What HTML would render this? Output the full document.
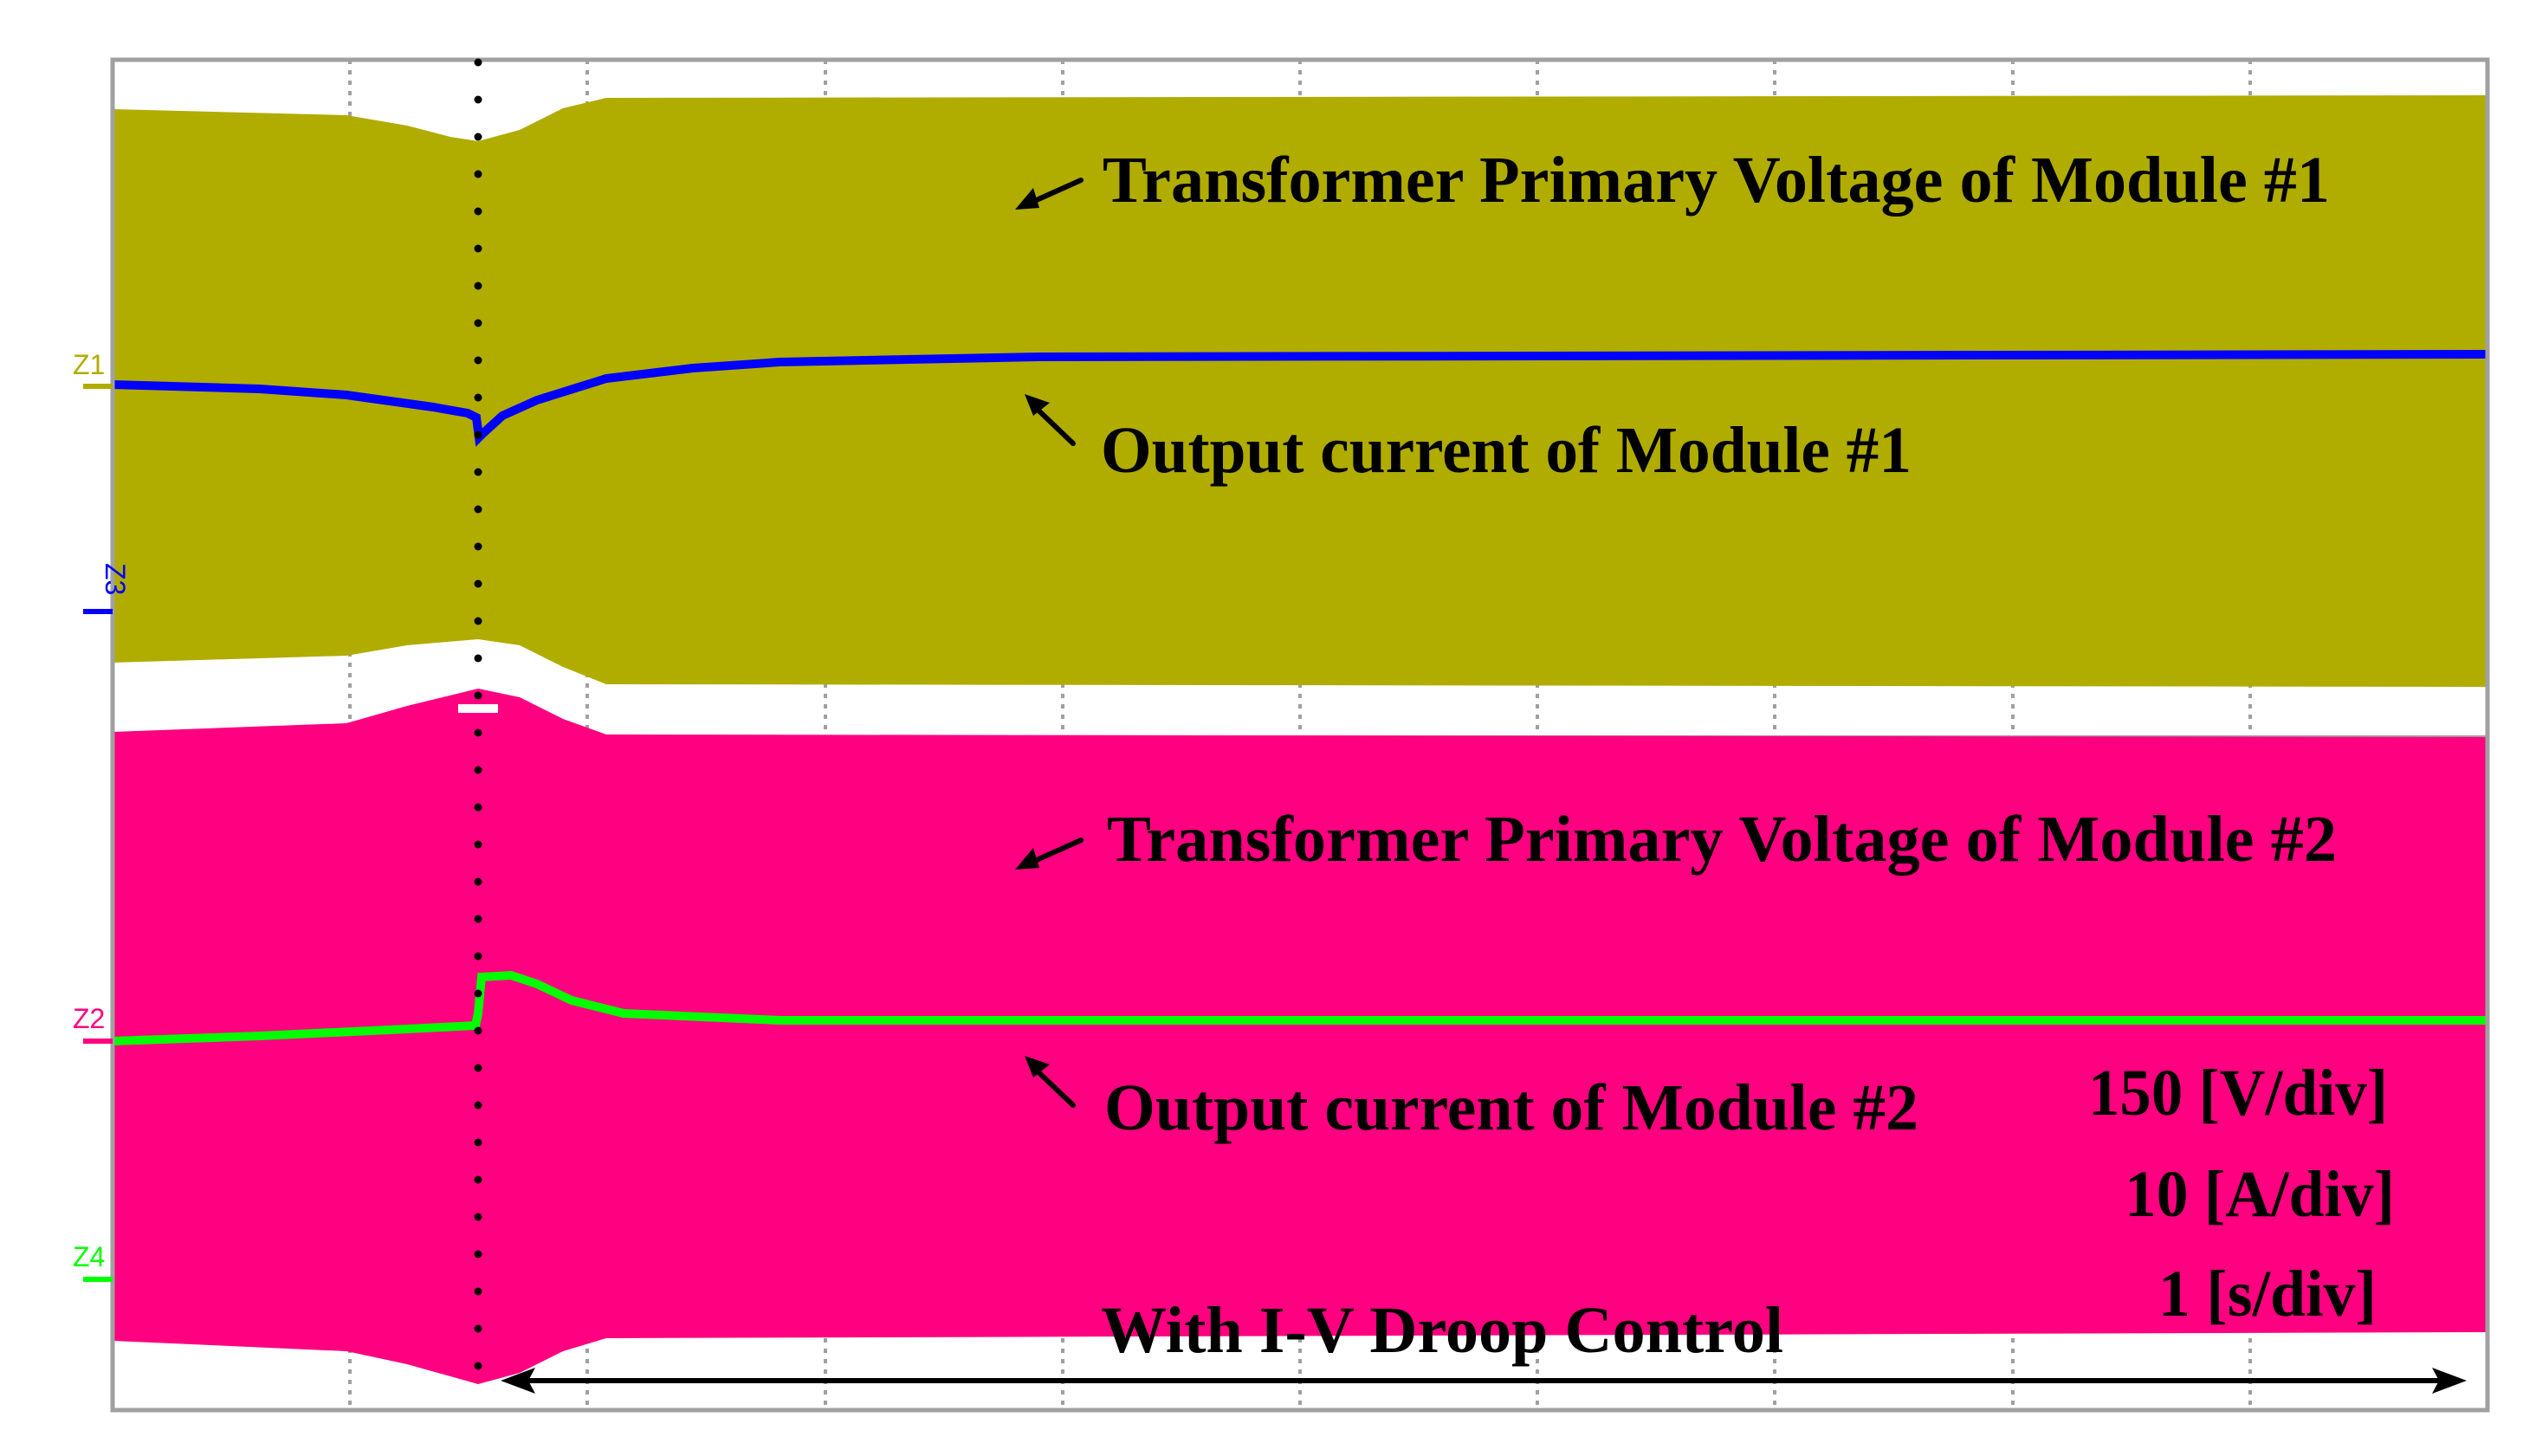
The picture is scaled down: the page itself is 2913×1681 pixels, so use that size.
<!DOCTYPE html>
<html><head><meta charset="utf-8"><style>html,body{margin:0;padding:0;background:#fff}svg{display:block}</style></head>
<body>
<svg id="s" width="2913" height="1681" viewBox="0 0 2913 1681" xmlns="http://www.w3.org/2000/svg">
<rect width="2913" height="1681" fill="#fff"/>
<g stroke="#a0a0a0" stroke-width="4" stroke-dasharray="5,7">
<line x1="404" y1="69" x2="404" y2="1628"/><line x1="678" y1="69" x2="678" y2="1628"/><line x1="953" y1="69" x2="953" y2="1628"/><line x1="1227" y1="69" x2="1227" y2="1628"/><line x1="1501" y1="69" x2="1501" y2="1628"/><line x1="1775" y1="69" x2="1775" y2="1628"/><line x1="2049" y1="69" x2="2049" y2="1628"/><line x1="2324" y1="69" x2="2324" y2="1628"/><line x1="2598" y1="69" x2="2598" y2="1628"/>
</g>
<line x1="130" y1="851" x2="2872" y2="851" stroke="#a0a0a0" stroke-width="4"/>
<polygon fill="#b0ac00" points="130,126 400,133 470,145 520,158 552,163 600,150 650,125 700,113 2872,110 2872,793 700,790 650,770 600,745 552,738 470,745 400,757 130,765"/>
<polygon fill="#ff0080" points="130,845 400,835 470,815 552,795 600,805 650,830 700,848 2872,851 2872,1538 700,1545 650,1560 600,1585 552,1598 470,1575 400,1560 130,1548"/>
<rect x="529" y="813" width="46" height="10" fill="#fff"/>
<polyline fill="none" stroke="#0000ff" stroke-width="10" points="130,444 300,449 400,456 500,470 540,477 550,482 553,505 558,500 580,480 620,462 700,437 800,425 900,418 1200,412 2872,409"/>
<polyline fill="none" stroke="#00ff00" stroke-width="10" points="130,1202 300,1196 450,1189 549,1184 552,1170 556,1128 590,1126 620,1136 660,1155 720,1170 900,1178 2872,1178"/>
<rect x="130" y="69" width="2742" height="1559" fill="none" stroke="#a0a0a0" stroke-width="5"/>
<g id="dots" fill="#000"></g>
<g font-family="Liberation Sans, sans-serif" font-size="32">
<text x="84" y="432" fill="#b0ac00">Z1</text><line x1="96" y1="446" x2="130" y2="446" stroke="#b0ac00" stroke-width="6"/>
<text x="0" y="0" fill="#0000ff" transform="translate(122,650) rotate(90)">Z3</text><line x1="96" y1="706" x2="130" y2="706" stroke="#0000ff" stroke-width="6"/>
<text x="84" y="1187" fill="#ff0080">Z2</text><line x1="96" y1="1202" x2="130" y2="1202" stroke="#ff0080" stroke-width="6"/>
<text x="84" y="1462" fill="#00ff00">Z4</text><line x1="96" y1="1477" x2="130" y2="1477" stroke="#00ff00" stroke-width="6"/>
</g>
<g font-family="Liberation Serif, serif" font-weight="bold" font-size="76" fill="#000">
<text x="1273" y="233" textLength="1417" lengthAdjust="spacingAndGlyphs">Transformer Primary Voltage of Module #1</text>
<text x="1271" y="545" textLength="936" lengthAdjust="spacingAndGlyphs">Output current of Module #1</text>
<text x="1278" y="994" textLength="1420" lengthAdjust="spacingAndGlyphs">Transformer Primary Voltage of Module #2</text>
<text x="1275" y="1304" textLength="940" lengthAdjust="spacingAndGlyphs">Output current of Module #2</text>
<text x="2411" y="1287" textLength="346" lengthAdjust="spacingAndGlyphs">150 [V/div]</text>
<text x="2453" y="1404" textLength="312" lengthAdjust="spacingAndGlyphs">10 [A/div]</text>
<text x="2492" y="1519" textLength="252" lengthAdjust="spacingAndGlyphs">1 [s/div]</text>
<text x="1271" y="1561" textLength="788" lengthAdjust="spacingAndGlyphs">With I-V Droop Control</text>
</g>
<g stroke="#000" stroke-width="6" stroke-linecap="round">
<line x1="1248" y1="208" x2="1190" y2="234"/>
<line x1="1239" y1="512" x2="1195" y2="470"/>
<line x1="1248" y1="970" x2="1190" y2="996"/>
<line x1="1239" y1="1276" x2="1195" y2="1234"/>
<line x1="600" y1="1594" x2="2826" y2="1594"/>
</g>
<g fill="#000">
<polygon points="1172,242 1193,217 1200,240"/>
<polygon points="1183,455 1212,465 1193,480"/>
<polygon points="1172,1004 1193,979 1200,1002"/>
<polygon points="1183,1219 1212,1229 1193,1244"/>
<polygon points="578,1594 618,1579 610,1594 618,1609"/>
<polygon points="2848,1594 2808,1579 2816,1594 2808,1609"/>
</g>
</svg>
<script>
(function(){
var ns="http://www.w3.org/2000/svg",g=document.getElementById('dots');
for(var y=72;y<=1600;y+=43){var c=document.createElementNS(ns,'circle');c.setAttribute('cx',552);c.setAttribute('cy',y);c.setAttribute('r',4.5);g.appendChild(c);}
})();
</script>
</body></html>
